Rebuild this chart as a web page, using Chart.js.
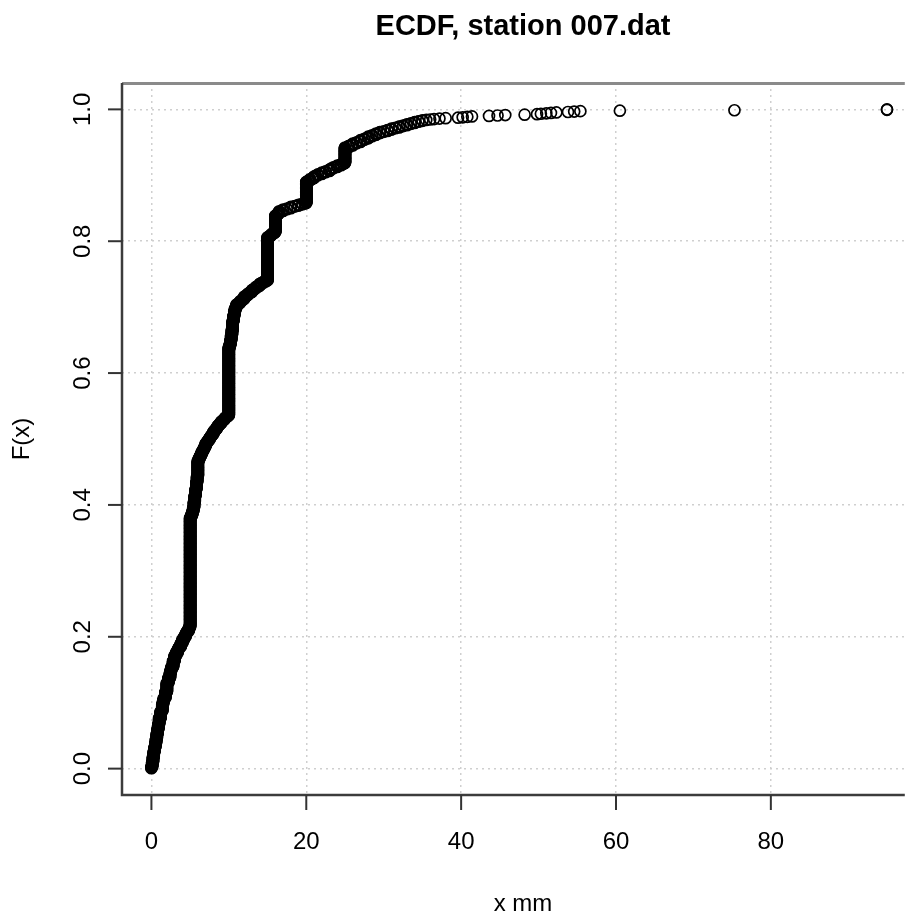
<!doctype html>
<html>
<head>
<meta charset="utf-8">
<title>ECDF, station 007.dat</title>
<script src="https://cdn.jsdelivr.net/npm/chart.js@4.4.1/dist/chart.umd.min.js"></script>
<style>
    html, body {
        margin: 0;
        padding: 0;
        background: #fff;
        overflow: hidden;
    }

    .chart-box {
        position: relative;
        width: 912px;
        height: 914px;
    }
</style>
</head>
<body>

<div class="chart-box">
    <canvas id="ecdf"></canvas>
</div>

<script>
    // daily rainfall amounts (mm) and the number of days recorded at each amount
    var rainMm = [
        0.0, 0.1, 0.2, 0.3, 0.4, 0.5, 0.6, 0.7, 0.8, 0.9,
        1.0, 1.2, 1.4, 1.5, 1.6, 1.8, 2.0, 2.2, 2.4, 2.5,
        2.6, 2.8, 3.0, 3.2, 3.4, 3.5, 3.6, 3.8, 4.0, 4.2,
        4.4, 4.5, 4.6, 4.8, 4.9,
        5.0, 5.1, 5.2, 5.3, 5.4, 5.5, 5.6, 5.7, 5.8, 5.9, 6.0,
        6.1, 6.2, 6.3, 6.4, 6.5, 6.6, 6.7, 6.8, 6.9, 7.0,
        7.1, 7.2, 7.3, 7.4, 7.5, 7.6, 7.7, 7.8, 7.9, 8.0,
        8.1, 8.2, 8.3, 8.4, 8.5, 8.6, 8.7, 8.8, 8.9, 9.0,
        9.1, 9.2, 9.3, 9.4, 9.5, 9.6, 9.7, 9.8, 9.9,
        10.0, 10.1, 10.2, 10.3, 10.4, 10.5, 10.6, 10.7, 10.8, 10.9,
        11.0, 11.2, 11.4, 11.5, 11.7, 11.8, 12.0, 12.2, 12.4, 12.5,
        12.7, 12.9, 13.0, 13.2, 13.4, 13.5, 13.8, 14.0, 14.2, 14.5, 14.8,
        15.0, 15.2, 15.4, 15.5, 15.7, 15.9, 16.0, 16.2, 16.4, 16.5,
        17.0, 17.5, 18.0, 18.5, 19.0, 19.5, 19.8, 20.0,
        20.3, 20.5, 20.8, 21.0, 21.2, 21.5, 22.0, 22.5, 23.0, 23.2,
        23.5, 24.0, 24.5, 24.8, 25.0,
        25.5, 26.0, 26.5, 27.0, 27.5, 28.0, 28.5, 29.0, 29.5, 30.0,
        30.5, 31.0, 31.5, 32.0, 32.5, 33.0, 33.5, 34.0, 34.5, 35.0,
        35.5, 36.0, 36.5, 37.2, 38.0,
        39.6, 40.2, 40.8, 41.4, 43.6, 44.7, 45.7, 48.2, 49.8, 50.3,
        51.0, 51.6, 52.3, 53.8, 54.6, 55.4, 60.5, 75.3, 95.0
    ];
    var dayCounts = [
        4, 10, 12, 12, 10, 10, 10, 11, 11, 11,
        14, 15, 15, 8, 7, 14, 21, 11, 12, 7,
        6, 14, 12, 7, 6, 4, 3, 8, 8, 6,
        6, 4, 3, 6, 4,
        248, 4, 5, 6, 8, 14, 14, 14, 16, 14, 35,
        4, 4, 4, 3, 5, 3, 3, 4, 3, 6,
        2, 3, 2, 2, 4, 2, 3, 2, 2, 5,
        2, 2, 2, 2, 4, 2, 2, 2, 1, 4,
        1, 2, 1, 2, 3, 1, 1, 2, 1,
        155, 6, 10, 12, 12, 20, 12, 10, 6, 4,
        6, 2, 3, 3, 2, 2, 6, 2, 2, 3,
        2, 1, 5, 2, 2, 3, 2, 5, 2, 3, 2,
        99, 2, 2, 3, 2, 2, 38, 3, 3, 4,
        4, 2, 4, 2, 3, 2, 1, 49,
        3, 3, 2, 4, 2, 3, 4, 3, 4, 2,
        3, 4, 3, 2, 36,
        4, 5, 3, 5, 3, 5, 3, 4, 3, 2,
        3, 3, 2, 3, 2, 3, 2, 3, 2, 2,
        1, 1, 1, 1, 1,
        1, 1, 1, 1, 1, 1, 1, 1, 1, 1,
        1, 1, 1, 1, 1, 1, 1, 1, 2
    ];

    var xTickValues = [0, 20, 40, 60, 80];
    var xTickLabels = ['0', '20', '40', '60', '80'];
    var yTickValues = [0, 0.2, 0.4, 0.6, 0.8, 1.0];
    var yTickLabels = ['0.0', '0.2', '0.4', '0.6', '0.8', '1.0'];

    var chartTitle = 'ECDF, station 007.dat';
    var xTitle = 'x mm';
    var yTitle = 'F(x)';

    // one point per day: sorted amount against rank / n
    var nDays = dayCounts.reduce(function(a, b) { return a + b; }, 0);
    var ecdfPoints = [];
    var rank = 0;
    for (var i = 0; i < rainMm.length; i++) {
        for (var k = 0; k < dayCounts[i]; k++) {
            rank++;
            ecdfPoints.push({ x: rainMm[i], y: rank / nDays });
        }
    }

    var tickFont = '24px "Liberation Sans", Arial, sans-serif';
    var titleFont = 'bold 29px "Liberation Sans", Arial, sans-serif';
    var titleCenterX = 523;

    // base-graphics style frame: box, outside ticks, rotated y labels, titles
    var rFrame = {
        id: 'rFrame',
        afterDatasetsDraw: function(chart) {
            var ctx = chart.ctx;
            var area = chart.chartArea;
            var xs = chart.scales.x;
            var ys = chart.scales.y;

            ctx.save();

            ctx.strokeStyle = '#8a8a8a';
            ctx.lineWidth = 3;
            ctx.beginPath();
            ctx.moveTo(area.left, area.top + 0.5);
            ctx.lineTo(area.right, area.top + 0.5);
            ctx.stroke();

            ctx.strokeStyle = '#3c3c3c';
            ctx.lineWidth = 2.5;
            ctx.beginPath();
            ctx.moveTo(area.left, area.top);
            ctx.lineTo(area.left, area.bottom);
            ctx.lineTo(area.right, area.bottom);
            ctx.stroke();

            ctx.lineWidth = 2;
            ctx.strokeStyle = '#333';
            xTickValues.forEach(function(v) {
                var px = xs.getPixelForValue(v);
                ctx.beginPath();
                ctx.moveTo(px, area.bottom);
                ctx.lineTo(px, area.bottom + 15);
                ctx.stroke();
            });
            yTickValues.forEach(function(v) {
                var py = ys.getPixelForValue(v);
                ctx.beginPath();
                ctx.moveTo(area.left, py);
                ctx.lineTo(area.left - 14, py);
                ctx.stroke();
            });

            ctx.fillStyle = '#000';
            ctx.font = tickFont;
            ctx.textAlign = 'center';
            ctx.textBaseline = 'alphabetic';
            xTickValues.forEach(function(v, j) {
                ctx.fillText(xTickLabels[j], xs.getPixelForValue(v), 849);
            });
            yTickValues.forEach(function(v, j) {
                ctx.save();
                ctx.translate(90, ys.getPixelForValue(v));
                ctx.rotate(-Math.PI / 2);
                ctx.fillText(yTickLabels[j], 0, 0);
                ctx.restore();
            });

            ctx.fillText(xTitle, titleCenterX, 911);
            ctx.save();
            ctx.translate(29, (area.top + area.bottom) / 2);
            ctx.rotate(-Math.PI / 2);
            ctx.fillText(yTitle, 0, 0);
            ctx.restore();

            ctx.font = titleFont;
            ctx.fillText(chartTitle, titleCenterX, 35);

            ctx.restore();
        }
    };

    var gridLine = {
        color: '#cfcfcf',
        lineWidth: 1.5,
        drawTicks: false
    };

    var config = {
        type: 'scatter',
        data: {
            datasets: [{
                label: 'ECDF',
                data: ecdfPoints,
                pointStyle: 'circle',
                pointRadius: 5.5,
                pointHoverRadius: 5.5,
                pointBorderWidth: 1.7,
                pointBorderColor: '#000',
                pointBackgroundColor: 'rgba(0,0,0,0)',
                showLine: false
            }]
        },
        options: {
            responsive: true,
            maintainAspectRatio: false,
            animation: false,
            devicePixelRatio: 1,
            events: [],
            layout: {
                padding: { left: 122, top: 83, right: 0, bottom: 119 }
            },
            plugins: {
                legend: { display: false },
                tooltip: { enabled: false },
                title: { display: false }
            },
            scales: {
                x: {
                    type: 'linear',
                    min: -3.8,
                    max: 97.3,
                    afterBuildTicks: function(scale) {
                        scale.ticks = xTickValues.map(function(v) { return { value: v }; });
                    },
                    afterFit: function(scale) { scale.height = 0; },
                    ticks: { display: false },
                    grid: gridLine,
                    border: { display: false, dash: [2, 4] }
                },
                y: {
                    type: 'linear',
                    min: -0.04,
                    max: 1.04,
                    afterBuildTicks: function(scale) {
                        scale.ticks = yTickValues.map(function(v) { return { value: v }; });
                    },
                    afterFit: function(scale) { scale.width = 0; },
                    ticks: { display: false },
                    grid: gridLine,
                    border: { display: false, dash: [2, 4] }
                }
            }
        },
        plugins: [rFrame]
    };

    window.onload = function() {
        var ctx = document.getElementById('ecdf').getContext('2d');
        window.ecdfChart = new Chart(ctx, config);
    };
</script>
</body>
</html>
